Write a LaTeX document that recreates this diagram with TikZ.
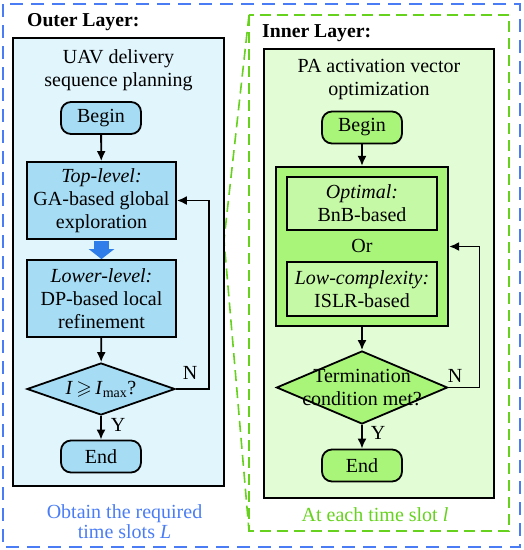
\documentclass[tikz,border=0pt]{standalone}
\usepackage{fontspec}
\setmainfont{Liberation Serif}
\usepackage{amssymb}
\usetikzlibrary{shapes.geometric,arrows.meta}
\definecolor{outerdash}{RGB}{74,125,245}
\definecolor{innerdash}{RGB}{102,210,30}
\definecolor{outerbg}{RGB}{225,245,253}
\definecolor{outernode}{RGB}{166,221,245}
\definecolor{innerbg}{RGB}{226,252,214}
\definecolor{innernode}{RGB}{168,245,122}
\definecolor{innersub}{RGB}{198,249,166}
\definecolor{fatarrow}{RGB}{46,125,233}

\begin{document}
\begin{tikzpicture}[x=1pt,y=-1pt,
    font=\fontsize{20}{23}\selectfont,
    every node/.style={inner sep=0pt},
    term/.style={draw,line width=1.8pt,rounded corners=10pt,minimum width=80pt,minimum height=32pt},
    proc/.style={draw,line width=1.8pt,align=center,minimum width=149pt,minimum height=77pt},
    dec/.style={draw,line width=1.8pt,diamond,aspect=2.8},
    arr/.style={line width=1.8pt,-{Latex[length=10pt,width=9pt]}},
    layerbox/.style={draw,line width=2pt}]
          \useasboundingbox (0,0) rectangle (524,550);
          % dashed frames
          \draw [outerdash,line width=1.6pt,dash pattern=on 13pt off 8pt] (3,4) rectangle (520,547);
          \draw [innerdash,line width=1.6pt,dash pattern=on 11pt off 6pt] (249,15) -- (224,240) -- (249,531);
          \draw [innerdash,line width=1.6pt,dash pattern=on 11pt off 6pt] (249,15) rectangle (509,531);
          % outer layer
          \draw [layerbox,fill=outerbg] (13,38) rectangle (224,486);
          \node [anchor=base west,font=\fontsize{19.7}{23}\selectfont\bfseries] (otitle) at (27,26) {Outer Layer:};
          \node [align=center] (otask) at (118.5,70) {UAV delivery\\sequence planning};
          \node [term,fill=outernode] (obegin) at (101,118) {Begin};
          \node [proc,fill=outernode] (otop) at (101.5,200.5) {\itshape Top-level:\\GA-based global\\exploration};
          \node [proc,fill=outernode] (olow) at (101.5,298.5) {\itshape Lower-level:\\DP-based local\\refinement};
          \node [dec,fill=outernode,minimum width=148pt,minimum height=52pt] (odec) at (101,389) {\textit{I}\,$\geqslant$\,\textit{I}\textsubscript{max}?};
          \node [term,fill=outernode] (oend) at (101,456.5) {End};
          \draw [arr] (obegin) -- (otop);
          \draw [fatarrow,line width=15pt,shorten <=1pt,-{Triangle[length=10pt,width=25pt]}] (otop.south) -- (olow.north);
          \draw [arr] (olow) -- (odec);
          \draw [arr] (odec) -- (oend);
          \draw [arr] (odec.east) -- ++(33,0) |- (otop.east);
          \node (on) at (190,373) {N};
          \node (oy) at (118,425) {Y};
          \node [anchor=base,align=center,text=outerdash] (onote) at (124.5,518) {Obtain the required};
          \node [anchor=base,text=outerdash] (onote2) at (124.5,538) {time slots \textit{L}};
          % inner layer
          \draw [layerbox,fill=innerbg] (264,49) rectangle (494,498);
          \node [anchor=base west,font=\fontsize{19.7}{23}\selectfont\bfseries] (ititle) at (262,37) {Inner Layer:};
          \node [align=center] (itask) at (379,80) {PA activation vector\\optimization};
          \node [term,fill=innernode] (ibegin) at (362,127.5) {Begin};
          \node [draw,line width=2.2pt,fill=innernode,minimum width=172pt,minimum height=159pt] (ibig) at (362,246.5) {};
          \node [proc,fill=innersub,minimum width=150pt,minimum height=53pt] (iopt) at (362,203.5) {\itshape Optimal:\\BnB-based};
          \node (ior) at (362,246) {Or};
          \node [proc,fill=innersub,minimum width=150pt,minimum height=54pt] (ilow) at (362,289) {\itshape Low-complexity:\\ISLR-based};
          \node [dec,fill=innernode,minimum width=171pt,minimum height=73pt] (idec) at (362,387.5) {};
          \node [align=center] (idectext) at (idec.center) {Termination\\condition met?};
          \node [term,fill=innernode] (iend) at (362,465.5) {End};
          \draw [arr] (ibegin) -- (ibig);
          \draw [arr] (ibig) -- (idec);
          \draw [arr] (idec) -- (iend);
          \draw [arr] (idec.east) -- ++(31,0) |- (ibig.east);
          \node (in) at (455,376) {N};
          \node (iy) at (378,433) {Y};
          \node [anchor=base,text=innerdash] (inote) at (375,521) {At each time slot \textit{l}};
	\end{tikzpicture}
\end{document}
